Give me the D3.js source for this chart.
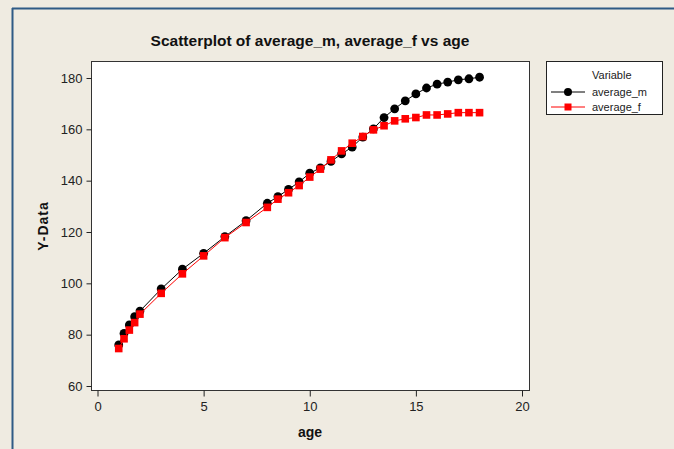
<!DOCTYPE html>
<html><head><meta charset="utf-8">
<script src="https://cdn.jsdelivr.net/npm/d3@7"></script>
<style>html,body{margin:0;padding:0;background:#EFEBE1;overflow:hidden;}svg{display:block;}</style>
</head><body>
<svg id="c" width="674" height="449"></svg>
<script>
const ages = [1,1.25,1.5,1.75,2,3,4,5,6,7,8,8.5,9,9.5,10,10.5,11,11.5,12,12.5,13,13.5,14,14.5,15,15.5,16,16.5,17,17.5,18];
const averageM = [76,80.5,83.8,87,89.2,97.8,105.5,111.7,118.2,124.4,131.2,133.8,136.6,139.5,142.9,145,147.5,150.4,153.1,157,160.2,164.6,168,171.1,173.8,176.1,177.6,178.4,179.3,179.7,180.3];
const averageF = [74.6,78.4,81.8,84.7,88,96.1,103.7,110.7,117.8,123.7,129.6,132.8,135.3,138.1,141.4,144.5,148.1,151.6,154.6,157.2,159.8,161.4,163.3,164.1,164.6,165.6,165.6,166,166.5,166.5,166.5];
const xTicks = [0,5,10,15,20];
const yTicks = [60,80,100,120,140,160,180];
const seriesNames = ["average_m","average_f"];

const svg = d3.select("#c");
const font = "'Liberation Sans', Arial, sans-serif";
// outer frame (top and left edges only visible)
svg.append("rect").attr("x",0).attr("y",0).attr("width",674).attr("height",449).attr("fill","#EFEBE1");
svg.append("line").attr("x1",12).attr("x2",674).attr("y1",8.5).attr("y2",8.5).attr("stroke","#2F5B86").attr("stroke-width",2);
svg.append("line").attr("x1",12.5).attr("x2",12.5).attr("y1",8).attr("y2",449).attr("stroke","#2F5B86").attr("stroke-width",2);

const box = {l:91.5, t:61.5, r:529.5, b:390.5};
svg.append("rect").attr("x",box.l).attr("y",box.t).attr("width",box.r-box.l).attr("height",box.b-box.t)
  .attr("fill","#fff").attr("stroke","#333").attr("stroke-width",1);

const x = d3.scaleLinear().domain([0,20]).range([97.5,522]);
const y = d3.scaleLinear().domain([60,180]).range([386,78]);

const xAxis = svg.append("g").attr("transform",`translate(0,${box.b})`)
  .call(d3.axisBottom(x).tickValues(xTicks).tickSize(6).tickPadding(5).tickFormat(d3.format("d")));
const yAxis = svg.append("g").attr("transform",`translate(${box.l},0)`)
  .call(d3.axisLeft(y).tickValues(yTicks).tickSize(5).tickPadding(4).tickFormat(d3.format("d")));
[xAxis,yAxis].forEach(a=>{
  a.select(".domain").remove();
  a.selectAll("line").attr("stroke","#222");
  a.selectAll("text").attr("font-family",font).attr("font-size",13).attr("fill","#222");
});

const pts = ages.map((a,i)=>({a,m:averageM[i],f:averageF[i]}));
const lineM = d3.line().x(d=>x(d.a)).y(d=>y(d.m));
const lineF = d3.line().x(d=>x(d.a)).y(d=>y(d.f));

svg.append("path").datum(pts).attr("d",lineM).attr("fill","none").attr("stroke","#000").attr("stroke-width",1);
svg.selectAll("circle.m").data(pts).enter().append("circle").attr("class","m")
  .attr("cx",d=>x(d.a)).attr("cy",d=>y(d.m)).attr("r",4.4).attr("fill","#000");
svg.append("path").datum(pts).attr("d",lineF).attr("fill","none").attr("stroke","#FF0000").attr("stroke-width",1);
const s = 7.6;
svg.selectAll("rect.f").data(pts).enter().append("rect").attr("class","f")
  .attr("x",d=>x(d.a)-s/2).attr("y",d=>y(d.f)-s/2).attr("width",s).attr("height",s).attr("fill","#FF0000");

// title & labels
svg.append("text").attr("x",310).attr("y",46).attr("text-anchor","middle")
  .attr("font-family",font).attr("font-weight","bold").attr("font-size",15.5).attr("fill","#111")
  .text("Scatterplot of average_m, average_f vs age");
svg.append("text").attr("x",310).attr("y",437).attr("text-anchor","middle")
  .attr("font-family",font).attr("font-weight","bold").attr("font-size",14).attr("fill","#111").text("age");
svg.append("text").attr("transform","translate(48,226) rotate(-90)").attr("text-anchor","middle")
  .attr("font-family",font).attr("font-weight","bold").attr("font-size",14).attr("fill","#111")
  .attr("letter-spacing",1).text("Y-Data");

// legend
const lg = svg.append("g");
lg.append("rect").attr("x",546.5).attr("y",61.5).attr("width",116).attr("height",53)
  .attr("fill","#fff").attr("stroke","#222");
lg.append("text").attr("x",592).attr("y",79).attr("font-family",font).attr("font-size",11).attr("fill","#222").text("Variable");
const colors = ["#000","#FF0000"];
seriesNames.forEach((n,i)=>{
  const yy = 92 + i*15;
  lg.append("line").attr("x1",551).attr("x2",585).attr("y1",yy).attr("y2",yy).attr("stroke",colors[i]);
  if(i===0) lg.append("circle").attr("cx",568).attr("cy",yy).attr("r",4).attr("fill","#000");
  else lg.append("rect").attr("x",564.5).attr("y",yy-3.5).attr("width",7).attr("height",7).attr("fill","#FF0000");
  lg.append("text").attr("x",592).attr("y",yy+4).attr("font-family",font).attr("font-size",11).attr("fill","#222").text(n);
});
</script>
</body></html>
